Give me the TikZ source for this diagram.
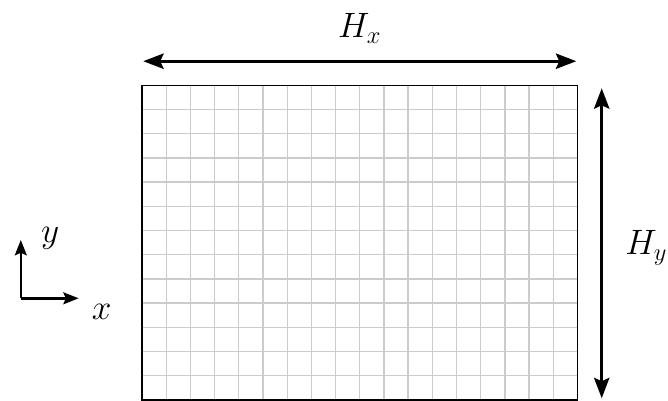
\documentclass[tikz,border=0pt]{standalone}
\usetikzlibrary{arrows.meta}

\begin{document}
\begin{tikzpicture}[x=0.5cm, y=0.5cm,
    gridline/.style={draw=gray!40, line width=0.8pt},
    frame/.style={draw=black, line width=1pt},
    dimarrow/.style={line width=1.7pt, {Stealth[length=12pt, width=9pt, inset=2pt]}-{Stealth[length=12pt, width=9pt, inset=2pt]}},
    axisarrow/.style={line width=1.4pt, -{Stealth[length=9pt, width=7pt, inset=1.5pt]}},
    mathlabel/.style={inner sep=0pt, anchor=base, font=\fontsize{22}{26}\selectfont}]
    \useasboundingbox (-5.87,-0.04) rectangle (21.74,16.53);

    % domain
    \draw[gridline, step=0.5cm] (0,0) grid (18,13);
    \draw[frame] (0,0) rectangle (18,13);

    % extents
    \coordinate (hxleft) at (0.05,14);
    \coordinate (hxright) at (17.95,14);
    \coordinate (hybottom) at (19,0.07);
    \coordinate (hytop) at (19,12.88);
    \draw[dimarrow] (hxleft) -- (hxright);
    \draw[dimarrow] (hybottom) -- (hytop);
    \node[mathlabel] (hx) at (9,14.96) {$H_x$};
    \node[mathlabel, anchor=base west] (hy) at (19.96,6) {$H_y$};

    % axes
    \coordinate (origin) at (-5.01,4.2);
    \coordinate (xtip) at (-2.62,4.2);
    \coordinate (ytip) at (-5.01,6.61);
    \draw[axisarrow] (origin) -- (xtip);
    \draw[axisarrow] (origin) -- (ytip);
    \node[mathlabel] (ylab) at (-3.8,6.5) {$y$};
    \node[mathlabel] (xlab) at (-1.67,3.31) {$x$};
\end{tikzpicture}
\end{document}
